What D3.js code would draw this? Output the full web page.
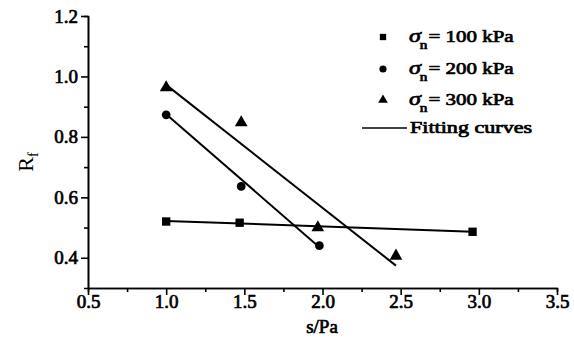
<!DOCTYPE html>
<html>
<head>
<meta charset="utf-8">
<script src="https://cdn.jsdelivr.net/npm/d3@7"></script>
<style>
  body { margin: 0; background: #fff; }
  svg text { font-family: "Liberation Serif", "DejaVu Serif", serif; }
  .axis path, .axis line { stroke: #000; stroke-width: 1.6; }
  .axis text, .bold { font-size: 19px; fill: #000; stroke: #000; stroke-width: 0.7px;
    font-family: "Liberation Serif", serif; }
</style>
</head>
<body>
<div id="chart"></div>
<script>
// data
var series = ["100 kPa", "200 kPa", "300 kPa"];
var sx100 = [1.0, 1.47, 2.96];
var ry100 = [0.52, 0.516, 0.486];
var sx200 = [1.0, 1.48, 1.98];
var ry200 = [0.873, 0.636, 0.44];
var sx300 = [1.0, 1.48, 1.97, 2.47];
var ry300 = [0.963, 0.847, 0.50, 0.406];
// fitting lines, end points
var fit100 = [[1.0, 0.522], [2.96, 0.486]];
var fit200 = [[1.0, 0.875], [1.98, 0.435]];
var fit300 = [[1.0, 0.972], [2.47, 0.374]];
var xTicks = [0.5, 1.0, 1.5, 2.0, 2.5, 3.0, 3.5];
var xMinor = [0.75, 1.25, 1.75, 2.25, 2.75, 3.25];
var yTicks = [0.4, 0.6, 0.8, 1.0, 1.2];
var yMinor = [0.5, 0.7, 0.9, 1.1];

var width = 574, height = 338;
var mLeft = 88, mRight = 557, mTop = 16, mBottom = 288;

var svg = d3.select("#chart").append("svg")
    .attr("width", width)
    .attr("height", height);

var x = d3.scaleLinear().domain([0.5, 3.5]).range([mLeft, mRight]);
var y = d3.scaleLinear().domain([0.3, 1.2]).range([mBottom, mTop]);

// minor ticks first
svg.append("g")
    .attr("class", "axis")
    .attr("transform", "translate(0," + mBottom + ")")
    .call(d3.axisBottom(x).tickValues(xMinor).tickSize(4).tickFormat(""));
svg.append("g")
    .attr("class", "axis")
    .attr("transform", "translate(" + mLeft + ",0)")
    .call(d3.axisLeft(y).tickValues(yMinor).tickSize(4).tickFormat(""));

var xAxis = svg.append("g")
    .attr("class", "axis")
    .attr("transform", "translate(0," + mBottom + ")")
    .call(d3.axisBottom(x).tickValues(xTicks).tickSize(7).tickSizeOuter(0)
        .tickFormat(d3.format(".1f")));
xAxis.selectAll("text").attr("y", 20).attr("dy", 0);

var yAxis = svg.append("g")
    .attr("class", "axis")
    .attr("transform", "translate(" + mLeft + ",0)")
    .call(d3.axisLeft(y).tickValues(yTicks).tickSize(7).tickSizeOuter(0)
        .tickFormat(d3.format(".1f")));
yAxis.selectAll("text").attr("x", -10);

// axis titles
svg.append("text")
    .attr("class", "bold")
    .attr("x", 322).attr("y", 333)
    .attr("text-anchor", "middle")
    .text("s/Pa");

var yt = svg.append("text")
    .attr("transform", "translate(33,162) rotate(-90)")
    .attr("text-anchor", "middle")
    .style("font-size", "22px");
yt.append("tspan").text("R");
yt.append("tspan").attr("dy", 5).style("font-size", "14px").text("f");

// fitting lines
var line = d3.line()
    .x(function(d) { return x(d[0]); })
    .y(function(d) { return y(d[1]); });

[fit100, fit200, fit300].forEach(function(f) {
  svg.append("path")
      .attr("d", line(f))
      .attr("fill", "none")
      .attr("stroke", "#000")
      .attr("stroke-width", 2);
});

var sym = [d3.symbolSquare, d3.symbolCircle, d3.symbolTriangle];
var symSize = [70, 60, 70];
var pts = [
  d3.zip(sx100, ry100),
  d3.zip(sx200, ry200),
  d3.zip(sx300, ry300)
];

pts.forEach(function(p, i) {
  svg.selectAll(".pt" + i)
      .data(p)
      .enter().append("path")
      .attr("class", "pt" + i)
      .attr("transform", function(d) { return "translate(" + x(d[0]) + "," + y(d[1]) + ")"; })
      .attr("d", d3.symbol().type(sym[i]).size(symSize[i]))
      .attr("fill", "#000");
});

// legend (text in the picture is stretched sideways)
var legY = [37, 69, 100, 128];
series.forEach(function(s, i) {
  svg.append("path")
      .attr("transform", "translate(383," + legY[i] + ")")
      .attr("d", d3.symbol().type(sym[i]).size(40))
      .attr("fill", "#000");
  var t = svg.append("text")
      .attr("class", "bold")
      .attr("transform", "translate(409," + (legY[i] + 5) + ") scale(1.27,1)")
      .style("font-size", "16.5px");
  t.append("tspan").style("font-style", "italic").style("font-size", "19px").text("σ");
  t.append("tspan").attr("dy", 7).attr("dx", -1).style("font-size", "12px").text("n");
  t.append("tspan").attr("dy", -7).attr("dx", 1).text("= " + s);
});
svg.append("line")
    .attr("x1", 362).attr("x2", 407)
    .attr("y1", legY[3]).attr("y2", legY[3])
    .attr("stroke", "#000").attr("stroke-width", 1.5);
svg.append("text")
    .attr("class", "bold")
    .attr("transform", "translate(410," + (legY[3] + 5) + ") scale(1.34,1)")
    .style("font-size", "16.5px")
    .text("Fitting curves");
</script>
</body>
</html>
